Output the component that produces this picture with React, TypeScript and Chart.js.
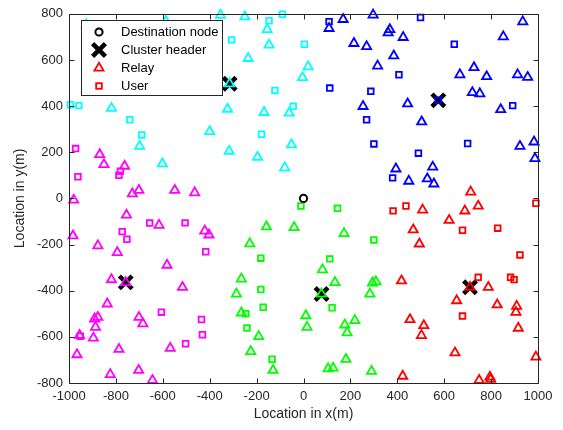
import { useEffect, useRef } from 'react';
import { Chart, registerables } from 'chart.js';
Chart.register(...registerables);

type P = { x: number; y: number };
const pts = (a: number[][]): P[] => a.map(([x, y]) => ({ x, y }));

const xTickValues = [-1000, -800, -600, -400, -200, 0, 200, 400, 600, 800, 1000];
const yTickValues = [-800, -600, -400, -200, 0, 200, 400, 600, 800];

const destination = [[0, 0]];
const headers = [[-315, 497], [575, 425], [-758, -364], [77, -414], [710, -385]];

const cyanRelay = [
  [-926, 753], [-587, 768], [-354, 794], [-250, 787], [-155, 732], [-147, 665], [-236, 607],
  [-315, 497], [20, 571], [-4, 524], [-324, 387], [-168, 373], [-61, 370], [-400, 290],
  [-819, 391], [-699, 226], [-602, 150], [-317, 205], [-51, 233], [-196, 179], [-80, 133],
];
const cyanUser = [
  [-90, 798], [-147, 770], [-307, 687], [4, 668], [-122, 468], [-44, 399], [-179, 278],
  [-994, 406], [-958, 402], [-741, 341], [-690, 275],
];
const blueRelay = [
  [169, 776], [297, 795], [109, 737], [368, 732], [361, 718], [425, 698], [215, 672],
  [269, 658], [385, 618], [316, 574], [444, 410], [254, 399], [504, 332], [935, 766],
  [852, 701], [727, 567], [667, 536], [781, 528], [913, 536], [956, 525], [720, 459],
  [752, 454], [841, 385], [394, 128], [449, 75], [551, 136], [528, 85], [556, 63],
  [923, 226], [983, 245], [987, 173],
];
const blueUser = [
  [109, 766], [499, 784], [407, 536], [112, 478], [287, 464], [269, 341], [643, 668],
  [575, 425], [892, 402], [300, 236], [490, 196], [380, 89], [700, 238],
];
const magentaRelay = [
  [-869, 190], [-851, 147], [-763, 140], [-730, 20], [-702, 35], [-549, 35], [-464, 25],
  [-980, -7], [-755, -72], [-616, -116], [-983, -162], [-877, -205], [-794, -234],
  [-421, -141], [-403, -158], [-582, -289], [-819, -352], [-758, -364], [-516, -385],
  [-837, -457], [-891, -522], [-877, -515], [-887, -558], [-896, -605], [-702, -515],
  [-685, -543], [-955, -593], [-966, -677], [-787, -654], [-568, -649], [-824, -763],
  [-703, -745], [-644, -788],
];
const magentaUser = [
  [-972, 216], [-781, 118], [-787, 100], [-962, 94], [-656, -107], [-505, -106],
  [-773, -144], [-753, -177], [-417, -231], [-606, -493], [-952, -597], [-435, -525],
  [-431, -591], [-503, -630],
];
const greenRelay = [
  [-158, -123], [-40, -126], [173, -152], [-229, -196], [-265, -349], [-286, -414],
  [-265, -496], [-191, -598], [-225, -663], [-130, -745], [81, -309], [134, -364],
  [77, -414], [294, -366], [309, -361], [283, -414], [10, -508], [15, -558], [176, -548],
  [219, -529], [186, -582], [181, -697], [105, -738], [126, -735], [290, -749],
];
const greenUser = [
  [-11, -33], [145, -43], [300, -180], [-182, -259], [112, -262], [-182, -395],
  [-172, -472], [-246, -500], [-241, -562], [-134, -697], [122, -474],
];
const redRelay = [
  [508, -50], [468, -136], [494, -197], [713, 28], [745, -33], [688, -54], [621, -95],
  [418, -357], [454, -525], [513, -551], [503, -594], [423, -770], [710, -385],
  [788, -385], [653, -443], [826, -461], [909, -467], [906, -493], [916, -562],
  [646, -669], [991, -687], [749, -788], [795, -774], [798, -784],
];
const redUser = [
  [382, -54], [437, -33], [678, -138], [828, -129], [991, -21], [923, -245], [745, -342],
  [883, -342], [898, -352], [678, -510],
];

const legendLabels = ['Destination node', 'Cluster header', 'Relay', 'User'];

const AXIS = '#262626';
const FONT = "'Liberation Sans', Arial, sans-serif";

const relay = (label: string, color: string, data: number[][]) => ({
  label, data: pts(data), pointStyle: 'triangle', pointRadius: 5.3, borderColor: color,
  backgroundColor: 'rgba(0,0,0,0)', pointBorderWidth: 1.8, borderWidth: 1.8, clip: false as const, order: 1,
});
const user = (label: string, color: string, data: number[][]) => ({
  label, data: pts(data), pointStyle: 'rect', pointRadius: 4, borderColor: color,
  backgroundColor: 'rgba(0,0,0,0)', pointBorderWidth: 1.8, borderWidth: 1.8, clip: false as const, order: 1,
});

const framePlugin = {
  id: 'frame',
  afterDraw(chart: any) {
    const { ctx, chartArea: a, scales } = chart;
    ctx.save();
    ctx.strokeStyle = AXIS;
    ctx.lineWidth = 1;
    ctx.beginPath();
    const L = Math.round(a.left) + 0.5, R = Math.round(a.right) + 0.5;
    const T = Math.round(a.top) + 0.5, B = Math.round(a.bottom) + 0.5;
    ctx.rect(L, T, R - L, B - T);
    const tl = 5;
    xTickValues.forEach((v) => {
      const px = Math.round(scales.x.getPixelForValue(v)) + 0.5;
      ctx.moveTo(px, B); ctx.lineTo(px, B - tl);
      ctx.moveTo(px, T); ctx.lineTo(px, T + tl);
    });
    yTickValues.forEach((v) => {
      const py = Math.round(scales.y.getPixelForValue(v)) + 0.5;
      ctx.moveTo(L, py); ctx.lineTo(L + tl, py);
      ctx.moveTo(R, py); ctx.lineTo(R - tl, py);
    });
    ctx.stroke();

    // legend
    const bx = 81.5, by = 20.5, bw = 141, bh = 75;
    ctx.fillStyle = '#ffffff';
    ctx.fillRect(bx, by, bw, bh);
    ctx.strokeStyle = AXIS;
    ctx.lineWidth = 1;
    ctx.strokeRect(bx, by, bw, bh);
    const sx = 99, rows = [32, 50, 68, 86];
    ctx.strokeStyle = '#000';
    ctx.lineWidth = 2;
    ctx.beginPath(); ctx.arc(sx, rows[0], 3.6, 0, Math.PI * 2); ctx.stroke();
    ctx.lineWidth = 4.5;
    const d = 6.4;
    ctx.beginPath();
    ctx.moveTo(sx - d, rows[1] - d); ctx.lineTo(sx + d, rows[1] + d);
    ctx.moveTo(sx + d, rows[1] - d); ctx.lineTo(sx - d, rows[1] + d);
    ctx.stroke();
    ctx.strokeStyle = '#ff0000';
    ctx.lineWidth = 1.8;
    const r = 5.3;
    ctx.beginPath();
    for (let i = 0; i < 3; i++) {
      const ang = (i * 2 * Math.PI) / 3;
      const x = sx + Math.sin(ang) * r, y = rows[2] - Math.cos(ang) * r;
      if (i === 0) ctx.moveTo(x, y); else ctx.lineTo(x, y);
    }
    ctx.closePath(); ctx.stroke();
    const s = 4 * Math.SQRT1_2;
    ctx.strokeRect(sx - s, rows[3] - s, 2 * s, 2 * s);
    ctx.fillStyle = '#000';
    ctx.font = `13px ${FONT}`;
    ctx.textBaseline = 'middle';
    ctx.textAlign = 'left';
    legendLabels.forEach((t, i) => ctx.fillText(t, 121, rows[i]));
    ctx.restore();
  },
};

export default function App() {
  const ref = useRef<HTMLCanvasElement>(null);
  useEffect(() => {
    document.body.style.margin = '0';
    const chart = new Chart(ref.current as HTMLCanvasElement, {
      type: 'scatter',
      data: {
        datasets: [
          {
            label: 'Destination node', data: pts(destination), pointStyle: 'circle', pointRadius: 3.6,
            borderColor: '#000', backgroundColor: 'rgba(0,0,0,0)', pointBorderWidth: 2, clip: false, order: 0,
          } as any,
          {
            label: 'Cluster header', data: pts(headers), pointStyle: 'crossRot', pointRadius: 9,
            borderColor: '#000', backgroundColor: '#000', pointBorderWidth: 4.5, borderWidth: 4.5, clip: false, order: 5,
          } as any,
          relay('Relay', '#ff0000', redRelay),
          user('User', '#ff0000', redUser),
          relay('c1', '#00ffff', cyanRelay),
          user('c2', '#00ffff', cyanUser),
          relay('b1', '#0000ff', blueRelay),
          user('b2', '#0000ff', blueUser),
          relay('m1', '#ff00ff', magentaRelay),
          user('m2', '#ff00ff', magentaUser),
          relay('g1', '#00ff00', greenRelay),
          user('g2', '#00ff00', greenUser),
        ],
      },
      options: {
        animation: false,
        responsive: false,
        events: [],
        layout: { padding: { top: 12, right: 25, left: 0, bottom: 0 } },
        plugins: { legend: { display: false }, tooltip: { enabled: false } },
        scales: {
          x: {
            type: 'linear', min: -1000, max: 1000,
            afterBuildTicks: (s: any) => { s.ticks = xTickValues.map((v) => ({ value: v })); },
            afterFit: (s: any) => { s.height = 47; },
            grid: { display: false, drawTicks: false },
            border: { display: false },
            ticks: { padding: 6, color: AXIS, font: { family: FONT, size: 13 }, callback: (v: any) => String(v), maxRotation: 0, autoSkip: false },
            title: { display: true, text: 'Location in x(m)', color: AXIS, font: { family: FONT, size: 14 }, padding: { top: 2, bottom: 7 } },
          },
          y: {
            type: 'linear', min: -800, max: 800,
            afterBuildTicks: (s: any) => { s.ticks = yTickValues.map((v) => ({ value: v })); },
            afterFit: (s: any) => { s.width = 69; },
            grid: { display: false, drawTicks: false },
            border: { display: false },
            ticks: { padding: 6, color: AXIS, font: { family: FONT, size: 13 }, callback: (v: any) => String(v), autoSkip: false },
            title: { display: true, text: 'Location in y(m)', color: AXIS, font: { family: FONT, size: 14 }, padding: { top: 12, bottom: 2 } },
          },
        },
      },
      plugins: [framePlugin],
    } as any);
    return () => chart.destroy();
  }, []);
  return (
    <div style={{ width: 563, height: 430 }}>
      <canvas ref={ref} width={563} height={430} style={{ width: 563, height: 430, display: 'block' }} />
    </div>
  );
}
